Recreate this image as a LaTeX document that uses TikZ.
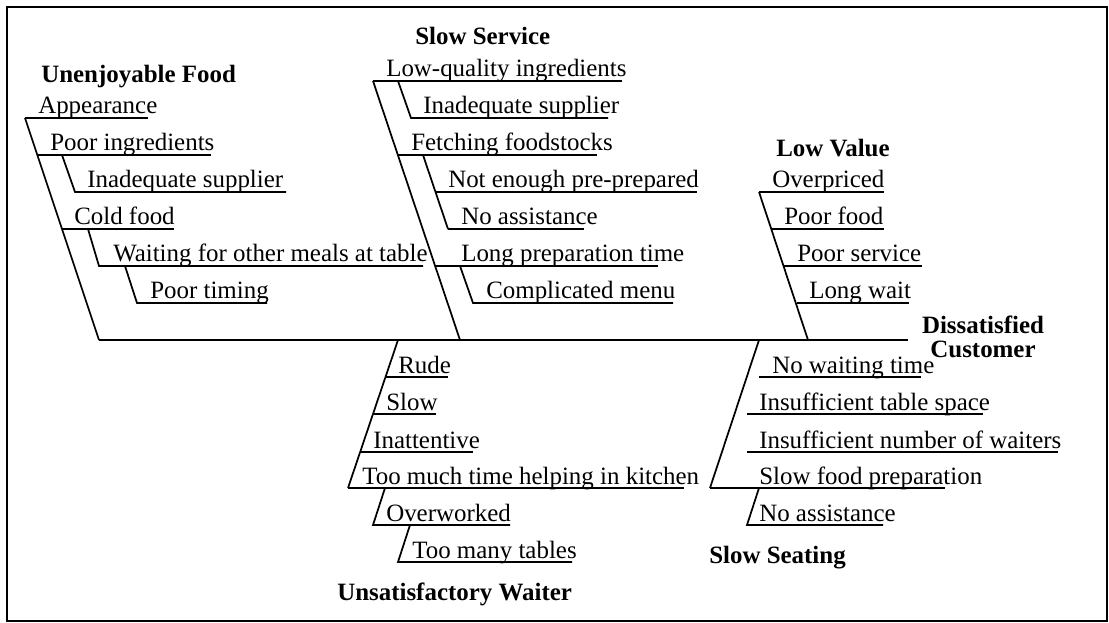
\documentclass[tikz,border=0pt]{standalone}
\usepackage{fontspec}
\setmainfont{Liberation Serif}
\begin{document}
\begin{tikzpicture}[x=0.75pt,y=-0.75pt,
  bone/.style={line width=1.3pt},
  lbl/.style={anchor=base west,inner sep=0pt,font=\fontsize{18.7}{22}\selectfont},
  ttl/.style={anchor=base west,inner sep=0pt,font=\fontsize{18.7}{22}\selectfont\bfseries}]
\useasboundingbox (0,0) rectangle (1109,623);
\draw[line width=1.7pt] (7,7) rectangle (1107,621);
% spine
\coordinate (tail) at (99,340);
\coordinate (head) at (908,340);
\draw[bone] (tail) -- (head);
\node[ttl,anchor=base] (dc1) at (983,334) {Dissatisfied};
\node[ttl,anchor=base] (dc2) at (983,358) {Customer};

% Unenjoyable Food
\node[ttl] (uf) at (41,83) {Unenjoyable Food};
\draw[bone] (25,118) -- (tail);
\draw[bone] (25,118) -- (148,118);  \node[lbl] (uf1) at (38,114) {Appearance};
\draw[bone] (37,155) -- (211,155);  \node[lbl] (uf2) at (50,151) {Poor ingredients};
\draw[bone] (62,155) -- (75,192) -- (286,192); \node[lbl] (uf3) at (87,188) {Inadequate supplier};
\draw[bone] (62,229) -- (174,229);  \node[lbl] (uf4) at (74,225) {Cold food};
\draw[bone] (88,229) -- (99,266) -- (423,266); \node[lbl] (uf5) at (113,262) {Waiting for other meals at table};
\draw[bone] (125,266) -- (137,303) -- (267,303); \node[lbl] (uf6) at (150,299) {Poor timing};

% Slow Service
\node[ttl] (ss) at (415,45) {Slow Service};
\draw[bone] (373,81) -- (460,340);
\draw[bone] (373,81) -- (622,81);  \node[lbl] (ss1) at (386,77) {Low-quality ingredients};
\draw[bone] (398,81) -- (411,118) -- (608,118); \node[lbl] (ss2) at (423,114) {Inadequate supplier};
\draw[bone] (398,155) -- (597,155); \node[lbl] (ss3) at (411,151) {Fetching foodstocks};
\draw[bone] (423,155) -- (448,229);
\draw[bone] (436,192) -- (697,192); \node[lbl] (ss4) at (448,188) {Not enough pre-prepared};
\draw[bone] (448,229) -- (584,229); \node[lbl] (ss5) at (461,225) {No assistance};
\draw[bone] (435,266) -- (658,266); \node[lbl] (ss6) at (461,262) {Long preparation time};
\draw[bone] (460,266) -- (473,303) -- (673,303); \node[lbl] (ss7) at (486,299) {Complicated menu};

% Low Value
\node[ttl] (lv) at (776,157) {Low Value};
\draw[bone] (759,192) -- (808,340);
\draw[bone] (759,192) -- (884,192); \node[lbl] (lv1) at (772,188) {Overpriced};
\draw[bone] (772,229) -- (884,229); \node[lbl] (lv2) at (784,225) {Poor food};
\draw[bone] (784,266) -- (922,266); \node[lbl] (lv3) at (797,262) {Poor service};
\draw[bone] (797,303) -- (909,303); \node[lbl] (lv4) at (809,299) {Long wait};

% Unsatisfactory Waiter
\node[ttl] (uw) at (337,600) {Unsatisfactory Waiter};
\draw[bone] (398,340) -- (348,488);
\draw[bone] (386,377) -- (448,377); \node[lbl] (uw1) at (398,373) {Rude};
\draw[bone] (374,414) -- (436,414); \node[lbl] (uw2) at (386,410) {Slow};
\draw[bone] (361,452) -- (473,452); \node[lbl] (uw3) at (373,448) {Inattentive};
\draw[bone] (348,488) -- (684,488); \node[lbl] (uw4) at (362,484) {Too much time helping in kitchen};
\draw[bone] (385,488) -- (373,525) -- (510,525); \node[lbl] (uw5) at (386,521) {Overworked};
\draw[bone] (410,525) -- (398,562) -- (572,562); \node[lbl] (uw6) at (412,558) {Too many tables};

% Slow Seating
\node[ttl] (sst) at (709,563) {Slow Seating};
\draw[bone] (759,340) -- (710,488);
\draw[bone] (759,377) -- (921,377); \node[lbl] (st1) at (772,373) {No waiting time};
\draw[bone] (747,414) -- (983,414); \node[lbl] (st2) at (759,410) {Insufficient table space};
\draw[bone] (747,452) -- (1058,452); \node[lbl] (st3) at (759,448) {Insufficient number of waiters};
\draw[bone] (710,488) -- (945,488); \node[lbl] (st4) at (759,484) {Slow food preparation};
\draw[bone] (759,488) -- (747,525) -- (883,525); \node[lbl] (st5) at (759,521) {No assistance};
\end{tikzpicture}
\end{document}
